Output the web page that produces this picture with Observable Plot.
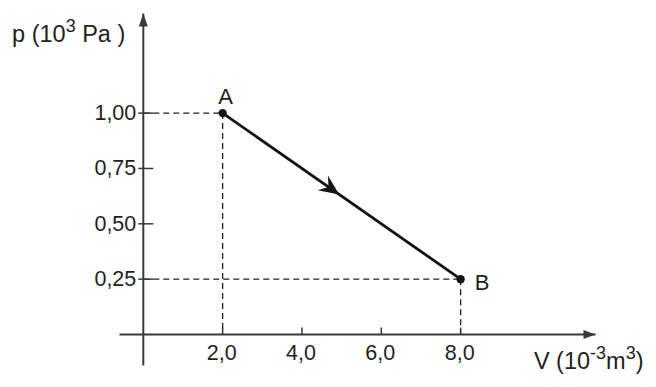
<!DOCTYPE html>
<html><head><meta charset="utf-8">
<script src="https://cdn.jsdelivr.net/npm/d3@7"></script>
<script src="https://cdn.jsdelivr.net/npm/@observablehq/plot@0.6"></script>
<style>html,body{margin:0;padding:0;background:#fff;} svg{display:block}</style>
</head><body><div id="chart"></div>
<script>
// ---- data ----
const states = ["A", "B"];
const volumes = [2.0, 8.0];      // 10^-3 m^3
const pressures = [1.00, 0.25];  // 10^3 Pa
const xTicks = [2, 4, 6, 8];
const xTickLabels = ["2,0", "4,0", "6,0", "8,0"];
const yTicks = [0.25, 0.50, 0.75, 1.00];
const yTickLabels = ["0,25", "0,50", "0,75", "1,00"];
const vExtent = [-0.6, 11.4];
const pExtent = [-0.14, 1.45];
const xTitle = "V (10^{-3}m^{3})";
const yTitle = "p (10^{3} Pa )";

// ---- layout ----
const W = 656, H = 387, ML = 119, MR = 61, MT = 13, MB = 22;
const ink = "#231f20", axisInk = "#3b3836";
const TICK = 21.5, TITLE = 23.5, SUP = 18, RAISE = 10;

const pts = states.map((s, i) => ({s, v: volumes[i], p: pressures[i]}));
const guides = pts.flatMap(d => [
  {x1: 0, y1: d.p, x2: d.v, y2: d.p},
  {x1: d.v, y1: d.p, x2: d.v, y2: 0}
]);
const axes = [
  {x1: vExtent[0], y1: 0, x2: vExtent[1], y2: 0},
  {x1: 0, y1: pExtent[0], x2: 0, y2: pExtent[1]}
];
const seg = [{x1: pts[0].v, y1: pts[0].p, x2: pts[1].v, y2: pts[1].p}];
const mid = [{v: (pts[0].v + pts[1].v) / 2, p: (pts[0].p + pts[1].p) / 2}];

// custom symbols
const shape = (points, close) => ({draw(ctx) {
  ctx.moveTo(points[0][0], points[0][1]);
  for (let i = 1; i < points.length; ++i) ctx.lineTo(points[i][0], points[i][1]);
  if (close) ctx.closePath();
}});
const kx = (W - ML - MR) / (vExtent[1] - vExtent[0]);
const ky = (H - MT - MB) / (pExtent[1] - pExtent[0]);
const ang = Math.atan2((pts[0].p - pts[1].p) * ky, (pts[1].v - pts[0].v) * kx);
const rot = ([x, y]) => [x * Math.cos(ang) - y * Math.sin(ang), x * Math.sin(ang) + y * Math.cos(ang)];
const midHead = shape([[-3, 0], [-23, -9], [-16, 0], [-23, 9]].map(rot), true);
const xHead = shape([[0, 0], [-12, -4.5], [-12, 4.5]], true);
const yHead = shape([[0, 0], [-4.5, 13], [4.5, 13]], true);
const yTickSym = shape([[-5, 0], [10, 0]], false);
const xTickSym = shape([[0, 0], [0, -7]], false);

const plot = Plot.plot({
  width: W, height: H,
  marginLeft: ML, marginRight: MR, marginTop: MT, marginBottom: MB,
  x: {domain: vExtent, axis: null},
  y: {domain: pExtent, axis: null},
  style: {fontFamily: "'Liberation Sans', Arial, sans-serif", fontSize: "21px", color: ink, background: "#fff"},
  marks: [
    Plot.link(guides, {x1: "x1", y1: "y1", x2: "x2", y2: "y2", stroke: ink, strokeWidth: 1.3, strokeDasharray: "6,4"}),
    Plot.link(axes, {x1: "x1", y1: "y1", x2: "x2", y2: "y2", stroke: axisInk, strokeWidth: 2}),
    Plot.dot([0], {x: vExtent[1], y: 0, symbol: xHead, fill: axisInk, stroke: "none"}),
    Plot.dot([0], {x: 0, y: pExtent[1], symbol: yHead, fill: axisInk, stroke: "none"}),
    Plot.dot(yTicks, {x: 0, y: d => d, symbol: yTickSym, fill: "none", stroke: axisInk, strokeWidth: 1.5}),
    Plot.dot(xTicks, {x: d => d, y: 0, symbol: xTickSym, fill: "none", stroke: axisInk, strokeWidth: 1.5}),
    Plot.text(yTicks, {x: 0, y: d => d, text: (d, i) => yTickLabels[i], textAnchor: "end", dx: -7, fontSize: TICK}),
    Plot.text(xTicks, {x: d => d, y: 0, text: (d, i) => xTickLabels[i], dx: -1, dy: 19, fontSize: TICK}),
    Plot.link(seg, {x1: "x1", y1: "y1", x2: "x2", y2: "y2", stroke: "#141414", strokeWidth: 2.8}),
    Plot.dot(mid, {x: "v", y: "p", symbol: midHead, fill: "#141414", stroke: "none"}),
    Plot.dot(pts, {x: "v", y: "p", r: 4.2, fill: "#141414", stroke: "none"}),
    Plot.text(pts.slice(0, 1), {x: "v", y: "p", text: "s", dx: 3, dy: -16, fontSize: 22}),
    Plot.text(pts.slice(1), {x: "v", y: "p", text: "s", textAnchor: "start", dx: 14, dy: 4, fontSize: 22}),
    Plot.text([yTitle], {x: 0, y: pExtent[1], text: d => d, textAnchor: "end", dx: -18, dy: 21, fontSize: TITLE}),
    Plot.text([xTitle], {x: vExtent[1], y: 0, text: d => d, textAnchor: "end", dx: 48, dy: 27, fontSize: TITLE})
  ]
});

// superscripts as tspans
d3.select(plot).selectAll("text").each(function() {
  const t = this.textContent;
  if (!t.includes("^{")) return;
  const parts = [];
  let last = 0; const re = /\^\{([^}]*)\}/g; let m;
  while ((m = re.exec(t))) {
    if (m.index > last) parts.push([t.slice(last, m.index), false]);
    parts.push([m[1], true]);
    last = re.lastIndex;
  }
  if (last < t.length) parts.push([t.slice(last), false]);
  const el = d3.select(this); el.text(null);
  let shift = 0;
  for (const [s, sup] of parts) {
    const target = sup ? -RAISE : 0;
    el.append("tspan").attr("dy", target - shift).attr("font-size", sup ? SUP : TITLE).text(s);
    shift = target;
  }
});

document.getElementById("chart").append(plot);
</script>
</body></html>
